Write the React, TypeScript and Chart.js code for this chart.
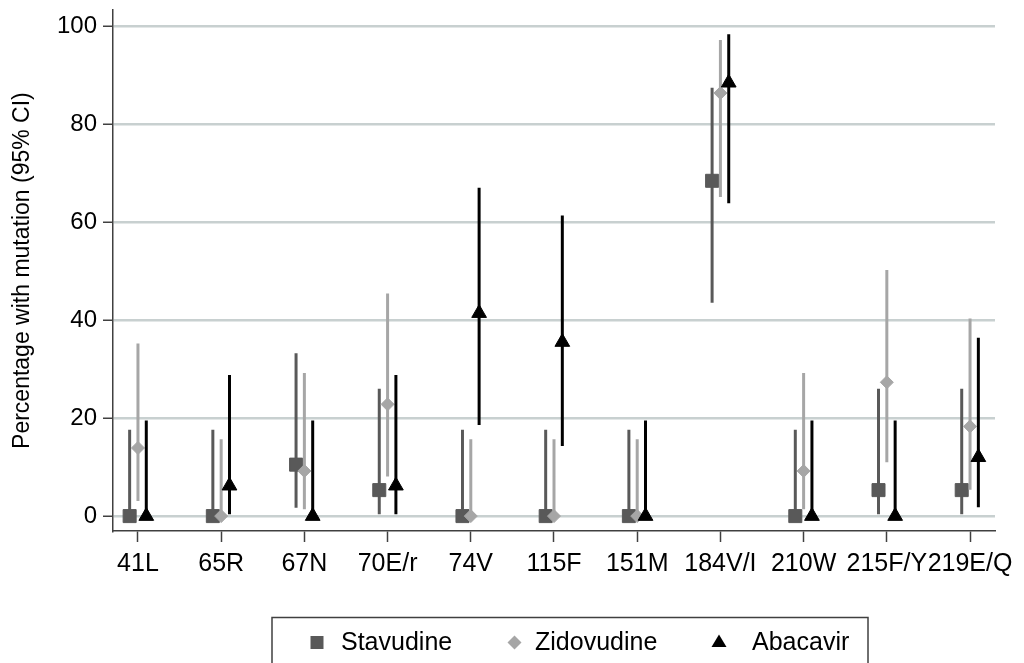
import React, { useEffect, useRef } from "react";
import { Chart, registerables } from "chart.js";

Chart.register(...registerables);

const categories = ["41L", "65R", "67N", "70E/r", "74V", "115F", "151M", "184V/I", "210W", "215F/Y", "219E/Q"];

const stavudine = [0, 0, 10.5, 5.3, 0, 0, 0, 68.4, 0, 5.3, 5.3];
const stavudineLo = [0, 0, 1.7, 0.4, 0, 0, 0, 43.5, 0, 0.4, 0.4];
const stavudineHi = [17.6, 17.6, 33.2, 26, 17.6, 17.6, 17.6, 87.4, 17.6, 26, 26];

const zidovudine = [13.9, 0, 9.2, 22.8, 0, 0, 0, 86.3, 9.2, 27.3, 18.3];
const zidovudineLo = [3.1, 0, 1.4, 8.1, 0, 0, 0, 65.1, 1.4, 11, 5.4];
const zidovudineHi = [35.2, 15.7, 29.2, 45.4, 15.7, 15.7, 15.7, 97.1, 29.2, 50.2, 40.3];

const abacavir = [0, 6.2, 0, 6.2, 41.4, 35.5, 0, 88.4, 0, 0, 12];
const abacavirLo = [0, 0.4, 0, 0.4, 18.6, 14.3, 0, 63.8, 0, 0, 1.8];
const abacavirHi = [19.5, 28.8, 19.5, 28.8, 67, 61.3, 19.5, 98.3, 19.5, 19.5, 36.4];

const yTicks = [0, 20, 40, 60, 80, 100];

const STAV_COLOR = "#595959";
const ZID_COLOR = "#a6a6a6";
const ABAC_COLOR = "#000000";
const FONT = "'Liberation Sans', Arial, Helvetica, sans-serif";

function points(vals: number[], off: number) {
  return vals.map((v, i) => ({ x: i + off, y: v }));
}

function bars(lo: number[], hi: number[], off: number) {
  const out: { x: number; y: number | null }[] = [];
  lo.forEach((l, i) => {
    out.push({ x: i + off, y: l });
    out.push({ x: i + off, y: hi[i] });
    out.push({ x: i + off, y: null });
  });
  return out;
}

const legendPlugin = {
  id: "boxLegend",
  afterDraw(chart: any) {
    const ctx = chart.ctx as CanvasRenderingContext2D;
    ctx.save();
    ctx.strokeStyle = "#404040";
    ctx.lineWidth = 1.5;
    ctx.strokeRect(272, 617.5, 596, 80);
    const items = chart.data.datasets.filter((d: any) => d.legendItem);
    const layout = [
      { mx: 317, tx: 341 },
      { mx: 514.5, tx: 535 },
      { mx: 719, tx: 752 },
    ];
    items
      .sort((a: any, b: any) => a.legendIndex - b.legendIndex)
      .forEach((d: any, k: number) => {
        const { mx, tx } = layout[k];
        const my = 642.5;
        ctx.fillStyle = d.backgroundColor;
        ctx.beginPath();
        if (d.pointStyle === "rect") {
          ctx.rect(mx - 6.5, my - 6.5, 13, 13);
        } else if (d.pointStyle === "rectRot") {
          ctx.moveTo(mx, my - 7);
          ctx.lineTo(mx + 7, my);
          ctx.lineTo(mx, my + 7);
          ctx.lineTo(mx - 7, my);
          ctx.closePath();
        } else {
          ctx.moveTo(mx, my - 8);
          ctx.lineTo(mx + 7.5, my + 4.5);
          ctx.lineTo(mx - 7.5, my + 4.5);
          ctx.closePath();
        }
        ctx.fill();
        ctx.fillStyle = "#000";
        ctx.font = `25px ${FONT}`;
        ctx.textBaseline = "alphabetic";
        ctx.textAlign = "left";
        ctx.fillText(d.label, tx, 650);
      });
    ctx.restore();
  },
};

export default function App() {
  const ref = useRef<HTMLCanvasElement>(null);

  useEffect(() => {
    if (!ref.current) return;
    const chart = new Chart(ref.current, {
      type: "scatter",
      data: {
        datasets: [
          {
            label: "Abacavir",
            legendItem: true,
            legendIndex: 2,
            data: points(abacavir, 0.1),
            pointStyle: "triangle",
            pointRadius: 8.5,
            backgroundColor: ABAC_COLOR,
            borderColor: ABAC_COLOR,
            borderWidth: 1,
            order: 0,
          } as any,
          {
            label: "Abacavir CI",
            data: bars(abacavirLo, abacavirHi, 0.1),
            showLine: true,
            spanGaps: false,
            pointRadius: 0,
            borderColor: ABAC_COLOR,
            borderWidth: 3,
            borderCapStyle: "butt",
            order: 1,
          } as any,
          {
            label: "Zidovudine",
            legendItem: true,
            legendIndex: 1,
            data: points(zidovudine, 0),
            pointStyle: "rectRot",
            pointRadius: 6.5,
            backgroundColor: ZID_COLOR,
            borderColor: ZID_COLOR,
            borderWidth: 1,
            order: 2,
          } as any,
          {
            label: "Zidovudine CI",
            data: bars(zidovudineLo, zidovudineHi, 0),
            showLine: true,
            spanGaps: false,
            pointRadius: 0,
            borderColor: ZID_COLOR,
            borderWidth: 3,
            borderCapStyle: "butt",
            order: 3,
          } as any,
          {
            label: "Stavudine",
            legendItem: true,
            legendIndex: 0,
            data: points(stavudine, -0.1),
            pointStyle: "rect",
            pointRadius: 9.2,
            backgroundColor: STAV_COLOR,
            borderColor: STAV_COLOR,
            borderWidth: 1,
            order: 4,
          } as any,
          {
            label: "Stavudine CI",
            data: bars(stavudineLo, stavudineHi, -0.1),
            showLine: true,
            spanGaps: false,
            pointRadius: 0,
            borderColor: STAV_COLOR,
            borderWidth: 3,
            borderCapStyle: "butt",
            order: 5,
          } as any,
        ],
      },
      options: {
        responsive: false,
        animation: false,
        events: [],
        layout: { padding: { top: 5, right: 29, left: 0, bottom: 0 } },
        plugins: {
          legend: { display: false },
          tooltip: { enabled: false },
        },
        scales: {
          x: {
            type: "linear",
            min: -0.3,
            max: 10.3,
            afterBuildTicks: (scale: any) => {
              scale.ticks = categories.map((_, i) => ({ value: i }));
            },
            afterFit: (scale: any) => {
              scale.height = 132;
              scale.paddingLeft = 0;
              scale.paddingRight = 0;
            },
            ticks: {
              callback: (v: any) => categories[Math.round(Number(v))] ?? "",
              autoSkip: false,
              maxRotation: 0,
              minRotation: 0,
              padding: 7,
              color: "#000",
              font: { family: FONT, size: 25 },
            },
            grid: {
              drawOnChartArea: false,
              drawTicks: true,
              tickLength: 11,
              tickColor: "#404040",
              tickWidth: 1.5,
            },
            border: { display: true, color: "#404040", width: 1.5 },
          },
          y: {
            type: "linear",
            min: -3.04,
            max: 103.2,
            afterBuildTicks: (scale: any) => {
              scale.ticks = yTicks.map((v) => ({ value: v }));
            },
            afterFit: (scale: any) => {
              scale.width = 113;
              scale.paddingTop = 0;
              scale.paddingBottom = 0;
            },
            ticks: {
              padding: 6,
              color: "#000",
              font: { family: FONT, size: 24 },
            },
            grid: {
              color: "#c8d0d0",
              lineWidth: 2.5,
              drawTicks: true,
              tickLength: 10,
              tickColor: "#404040",
              tickWidth: 1.5,
            },
            border: { display: true, color: "#404040", width: 1.5 },
            title: {
              display: true,
              text: "Percentage with mutation (95% CI)",
              color: "#000",
              font: { family: FONT, size: 23 },
              padding: { top: 9, bottom: 0 },
            },
          },
        },
      },
      plugins: [legendPlugin],
    });
    return () => chart.destroy();
  }, []);

  return (
    <div style={{ position: "fixed", left: 0, top: 0, width: 1024, height: 663, background: "#fff" }}>
      <canvas ref={ref} width={1024} height={663} style={{ display: "block" }} />
    </div>
  );
}
